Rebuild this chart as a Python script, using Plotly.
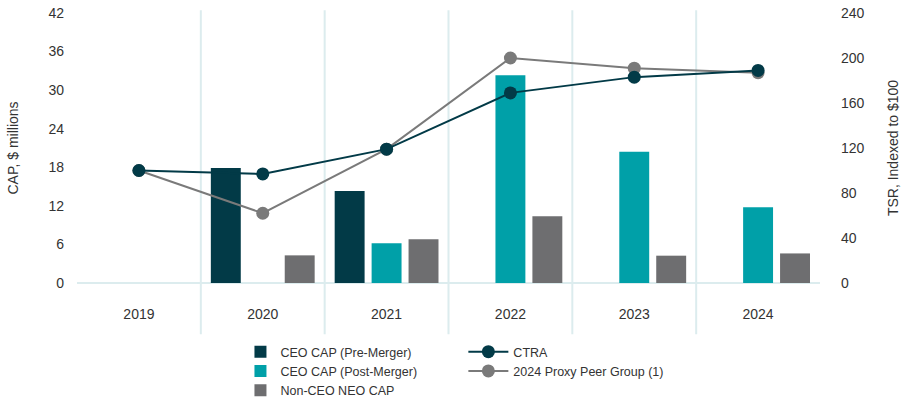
import plotly.graph_objects as go

years = ["2019", "2020", "2021", "2022", "2023", "2024"]
ceo_pre = [None, 17.9, 14.3, None, None, None]
ceo_post = [None, None, 6.2, 32.3, 20.4, 11.8]
non_ceo = [None, 4.3, 6.8, 10.4, 4.25, 4.6]
ctra_tsr = [100, 97, 119, 169, 183, 189]
peer_tsr = [100, 62, 119, 200, 191, 187]
left_ticks = [0, 6, 12, 18, 24, 30, 36, 42]
right_ticks = [0, 40, 80, 120, 160, 200, 240]

DARK = "#023a47"
TEAL = "#00a0a8"
GREY = "#6e6e70"
PEER = "#7a7a7a"
GRID = "#dcecee"
FONT = "Liberation Sans, Arial, sans-serif"
TXT = "#333333"

fig = go.Figure()
fig.add_trace(go.Bar(x=years, y=ceo_pre, name="CEO CAP (Pre-Merger)", marker_color=DARK,
                     marker_line_width=0, legend="legend"))
fig.add_trace(go.Bar(x=years, y=ceo_post, name="CEO CAP (Post-Merger)", marker_color=TEAL,
                     marker_line_width=0, legend="legend"))
fig.add_trace(go.Bar(x=years, y=non_ceo, name="Non-CEO NEO CAP", marker_color=GREY,
                     marker_line_width=0, legend="legend"))
fig.add_trace(go.Scatter(x=years, y=peer_tsr, name="2024 Proxy Peer Group (1)", yaxis="y2",
                         mode="lines+markers", line=dict(color=PEER, width=2),
                         marker=dict(color=PEER, size=13), legend="legend2", legendrank=2))
fig.add_trace(go.Scatter(x=years, y=ctra_tsr, name="CTRA", yaxis="y2",
                         mode="lines+markers", line=dict(color=DARK, width=2),
                         marker=dict(color=DARK, size=13), legend="legend2", legendrank=1))

for i in range(len(years) - 1):
    fig.add_shape(type="line", xref="x", yref="paper", x0=i + 0.5, x1=i + 0.5,
                  y0=-0.19, y1=1.01, line=dict(color=GRID, width=2), layer="below")

fig.update_layout(
    width=906, height=398,
    margin=dict(l=77, r=86, t=13, b=115, autoexpand=False),
    paper_bgcolor="white", plot_bgcolor="white",
    barmode="group", bargap=0.105, bargroupgap=0.19,
    font=dict(family=FONT, size=14, color=TXT),
    xaxis=dict(type="category", showgrid=False, zeroline=False, showline=False,
               ticks="", ticklabelstandoff=21, tickfont=dict(size=14, color=TXT)),
    yaxis=dict(range=[0, 42], tickvals=left_ticks, showgrid=False, zeroline=True,
               zerolinecolor=GRID, zerolinewidth=2, showline=False, ticks="",
               ticklabelstandoff=12,
               title=dict(text="CAP, $ millions", font=dict(size=14, color=TXT), standoff=26)),
    yaxis2=dict(range=[0, 240], tickvals=right_ticks, overlaying="y", side="right",
                showgrid=False, zeroline=False, showline=False, ticks="",
                ticklabelstandoff=20,
                title=dict(text="TSR, Indexed to $100", font=dict(size=14, color=TXT), standoff=24)),
    legend=dict(x=0.22, xanchor="left", y=-0.2, yanchor="top", orientation="v",
                font=dict(size=12.5, color=TXT), tracegroupgap=0, itemwidth=30,
                bgcolor="rgba(0,0,0,0)"),
    legend2=dict(x=0.52, xanchor="left", y=-0.2, yanchor="top", orientation="v",
                 font=dict(size=12.5, color=TXT), tracegroupgap=0, itemwidth=40,
                 bgcolor="rgba(0,0,0,0)", traceorder="normal"),
    showlegend=True,
)

fig.write_html("out.html", config={"displayModeBar": False},
               post_script="document.body.style.margin='0';document.body.style.overflow='hidden';")
